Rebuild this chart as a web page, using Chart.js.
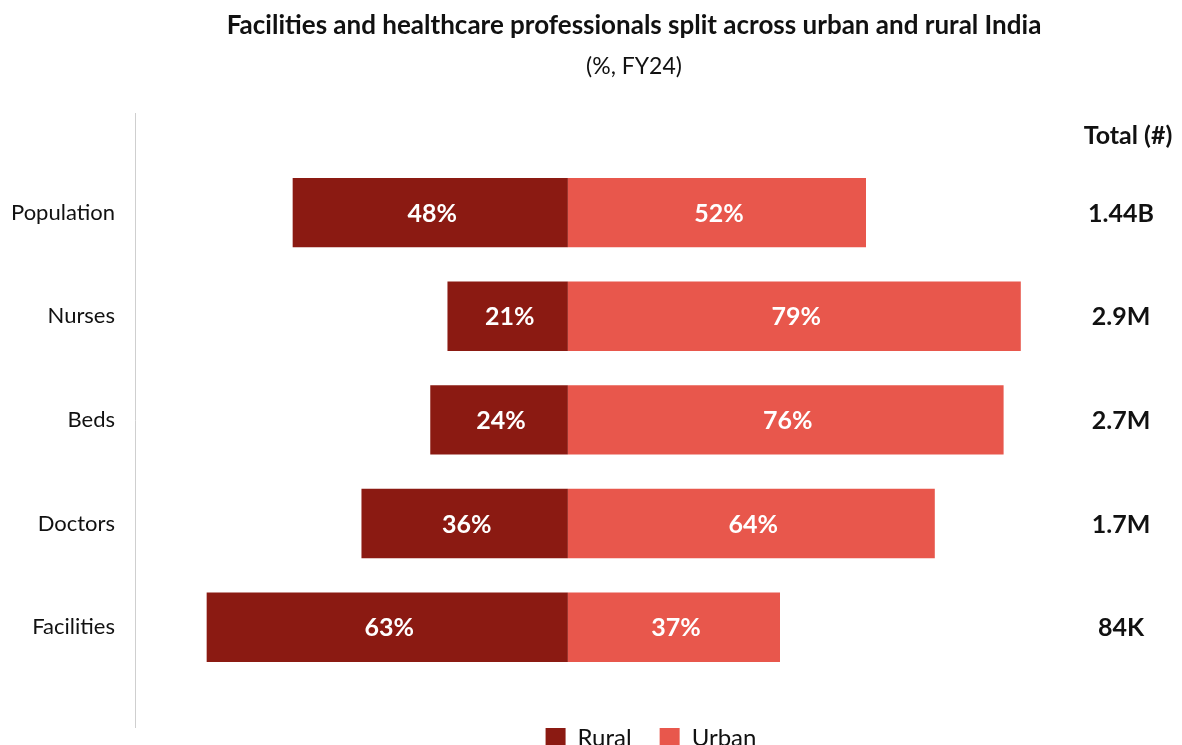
<!DOCTYPE html>
<html>
<head>
<meta charset="utf-8">
<title>Urban / rural split</title>
<script src="https://cdn.jsdelivr.net/npm/chart.js@4"></script>
<style>
  html, body { margin: 0; padding: 0; background: #fff; overflow: hidden; }
  #wrap { width: 1182px; height: 760px; position: relative; }
</style>
</head>
<body>
<div id="wrap"><canvas id="splitChart"></canvas></div>
<script>
const categories = ["Population", "Nurses", "Beds", "Doctors", "Facilities"];
const ruralPct = [48, 21, 24, 36, 63];
const urbanPct = [52, 79, 76, 64, 37];
const totals = ["1.44B", "2.9M", "2.7M", "1.7M", "84K"];

const FONT = "Lato, 'Noto Sans', sans-serif";
const RURAL = "#8b1a12";
const URBAN = "#e8574c";

// white % labels inside each segment, totals column, and the left rule
const overlay = {
  id: "overlay",
  afterDatasetsDraw(chart) {
    const ctx = chart.ctx;
    ctx.save();
    ctx.textAlign = "center";
    ctx.textBaseline = "middle";
    ctx.fillStyle = "#fff";
    ctx.font = "bold 25px " + FONT;
    chart.data.datasets.forEach((ds, di) => {
      chart.getDatasetMeta(di).data.forEach((bar, i) => {
        const cx = (bar.x + bar.base) / 2;
        ctx.fillText(Math.abs(ds.data[i]) + "%", cx + 2, bar.y + 1);
      });
    });

    const tx = 1121;
    ctx.fillStyle = "#111";
    ctx.font = "bold 25px " + FONT;
    ctx.fillText("Total (#)", tx + 7, 136);
    const yScale = chart.scales.y;
    totals.forEach((t, i) => {
      ctx.fillText(t, tx, yScale.getPixelForValue(i) + 1);
    });

    ctx.strokeStyle = "#cfcfcf";
    ctx.lineWidth = 1;
    ctx.beginPath();
    ctx.moveTo(135.5, 113);
    ctx.lineTo(135.5, 728);
    ctx.stroke();
    ctx.restore();
  }
};

new Chart(document.getElementById("splitChart"), {
  type: "bar",
  data: {
    labels: categories,
    datasets: [
      { label: "Rural", data: ruralPct.map(v => -v), backgroundColor: RURAL },
      { label: "Urban", data: urbanPct, backgroundColor: URBAN }
    ]
  },
  options: {
    indexAxis: "y",
    responsive: true,
    maintainAspectRatio: false,
    animation: false,
    // negative right padding widens the title box so it centres at x≈634
    layout: { padding: { top: 0, right: -86, bottom: 0, left: 0 } },
    datasets: { bar: { barPercentage: 0.67, categoryPercentage: 1, borderWidth: 0 } },
    scales: {
      x: {
        stacked: true,
        min: -75.5,
        max: 104.5,
        grid: { display: false },
        border: { display: false },
        ticks: { display: false },
        afterFit(scale) { scale.height = 19; }
      },
      y: {
        stacked: true,
        grid: { display: false, drawTicks: false },
        border: { display: false },
        ticks: { color: "#111", font: { family: FONT, size: 22 }, padding: 20 },
        afterFit(scale) { scale.width = 135; }
      },
      // empty strip on the right
      yTotals: {
        type: "category",
        position: "right",
        labels: categories,
        grid: { display: false, drawTicks: false },
        border: { display: false },
        ticks: { display: false },
        afterFit(scale) { scale.width = 101; }
      }
    },
    plugins: {
      tooltip: { enabled: false },
      title: {
        display: true,
        text: "Facilities and healthcare professionals split across urban and rural India",
        color: "#111",
        font: { family: FONT, size: 26, weight: "bold" },
        padding: { top: 10, bottom: 0 }
      },
      subtitle: {
        display: true,
        text: "(%, FY24)",
        color: "#111",
        font: { family: FONT, size: 23 },
        padding: { top: 12, bottom: 80 }
      },
      legend: {
        position: "bottom",
        fullSize: false,
        labels: {
          color: "#111",
          boxWidth: 20,
          boxHeight: 20,
          padding: 28,
          font: { family: FONT, size: 24 }
        }
      }
    }
  },
  plugins: [overlay]
});
</script>
</body>
</html>
